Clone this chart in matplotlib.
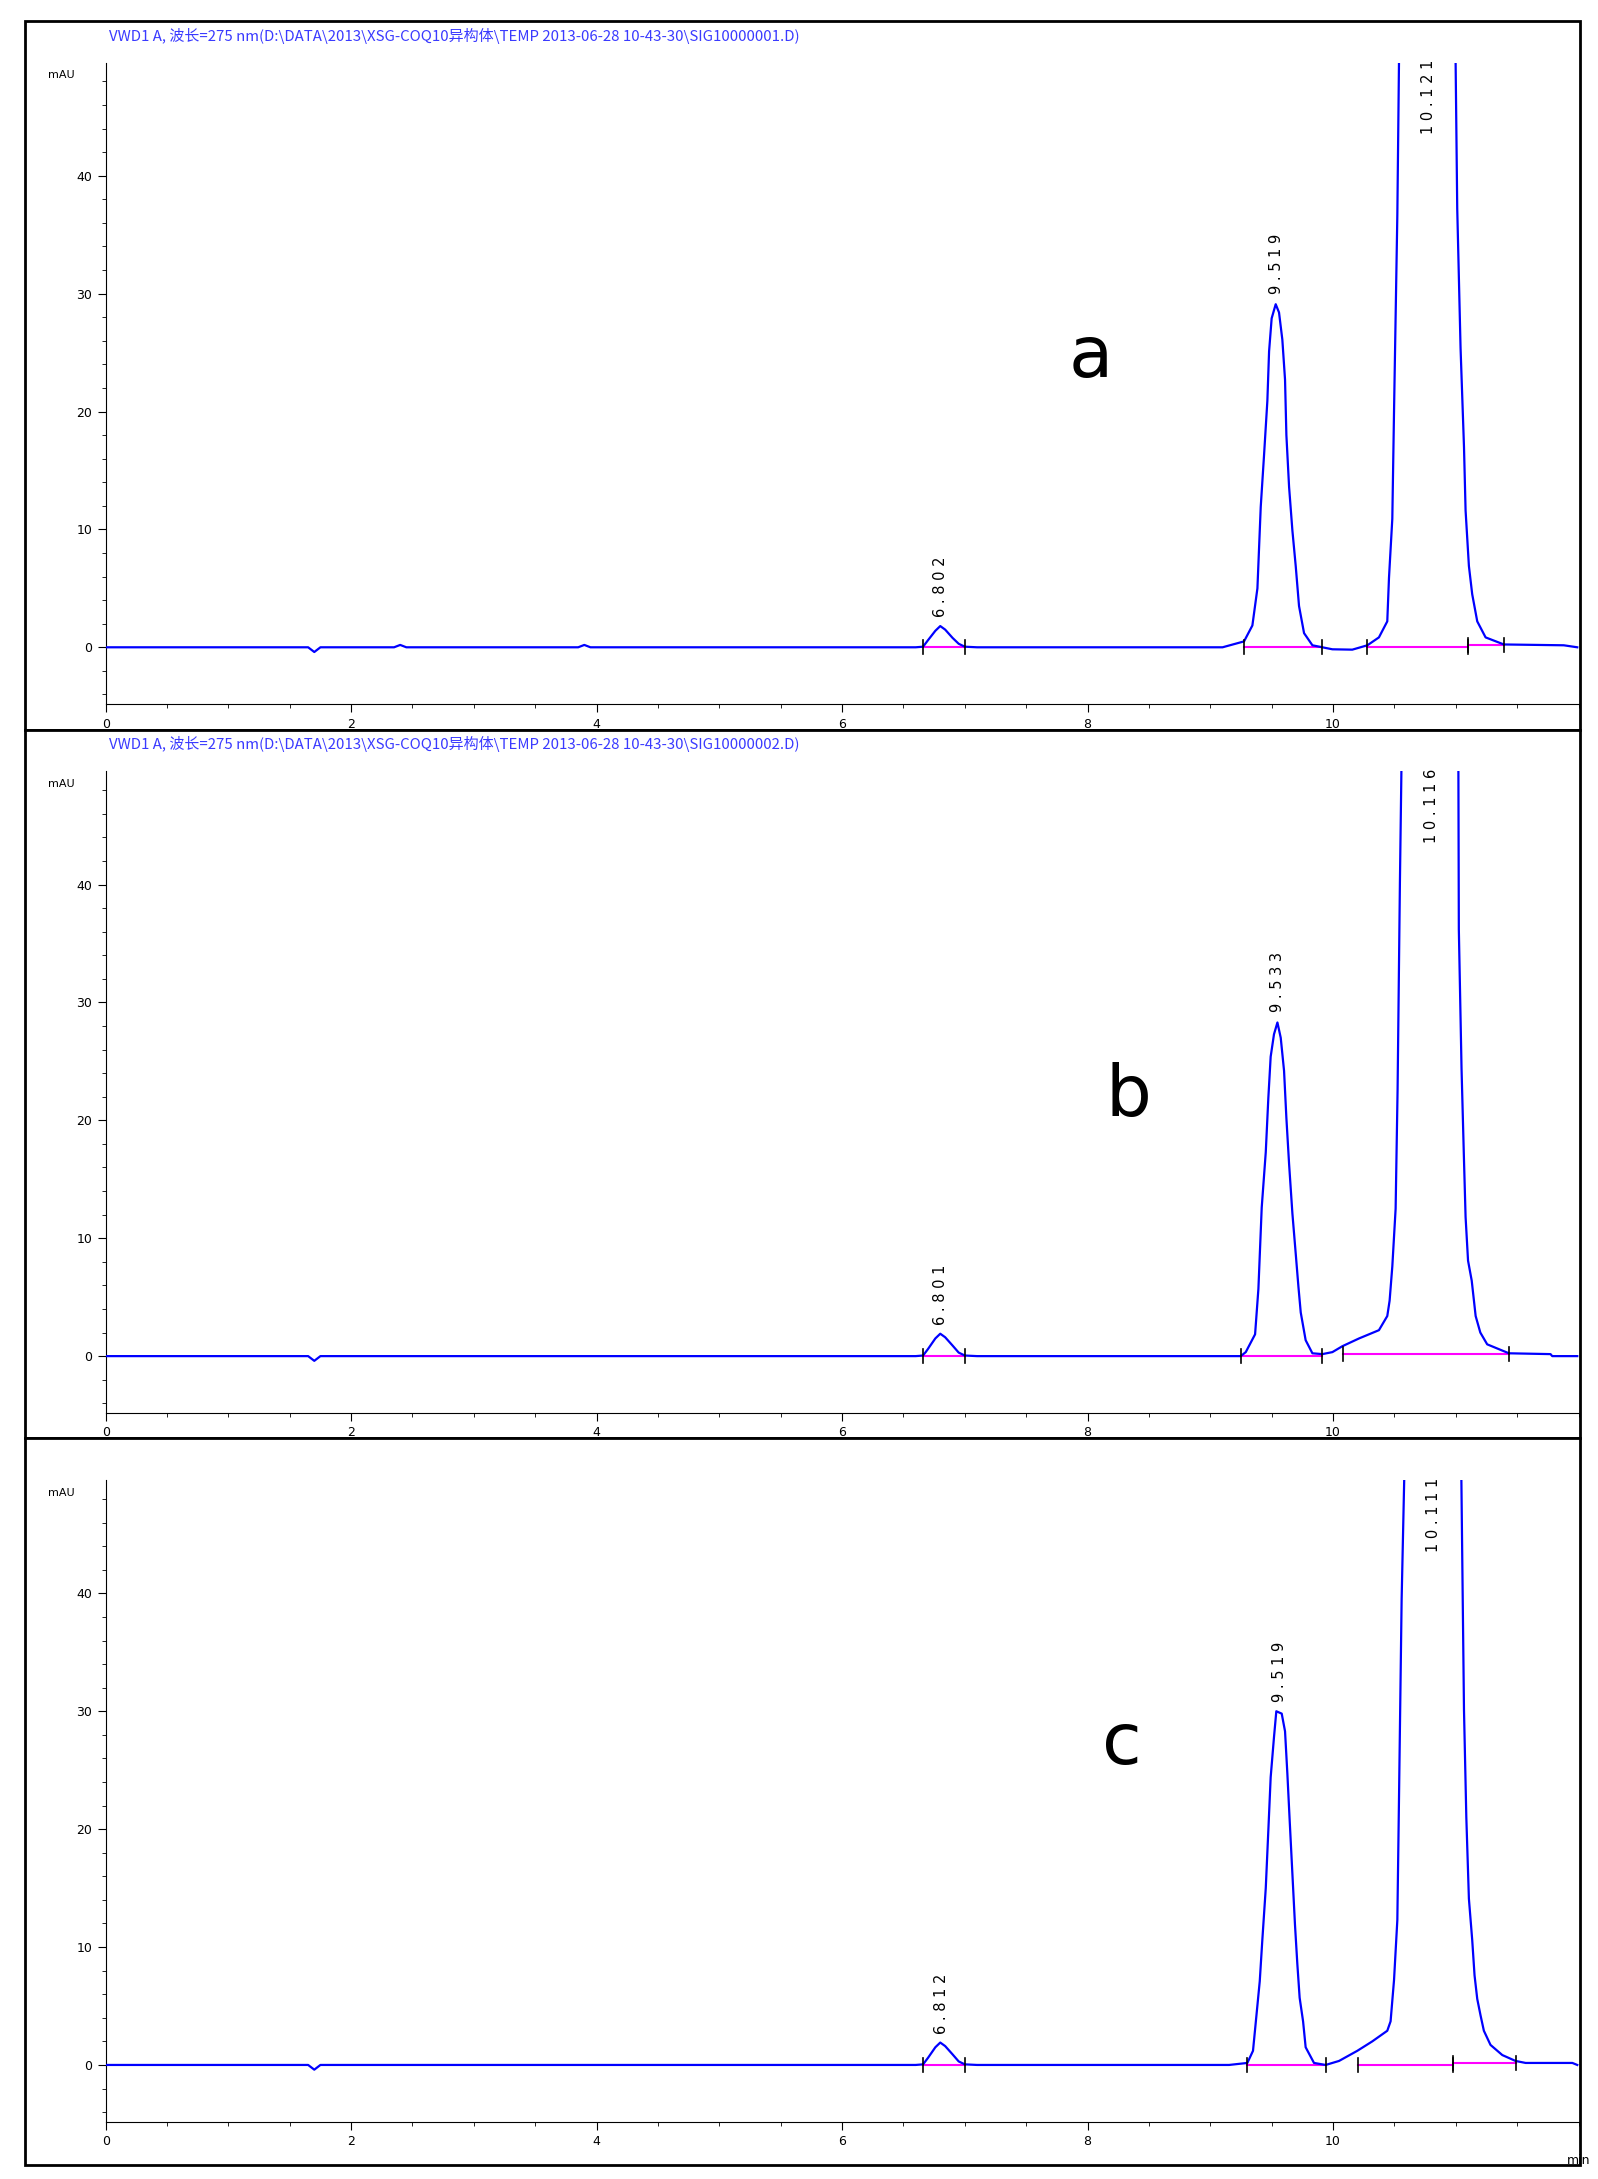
import numpy as np
import matplotlib
matplotlib.use('Agg')
import matplotlib.pyplot as plt
from matplotlib.patches import Rectangle
from matplotlib.ticker import MultipleLocator

plt.rcParams['font.family'] = ['Noto Sans CJK SC', 'DejaVu Sans']

# retention time (min) and signal (mAU)
base_t = [0.0, 1.65, 1.7, 1.75, 2.35, 2.4, 2.45, 3.85, 3.9, 3.95, 6.6]
base_a = [0.0, 0.0, -0.4, 0.0, 0.0, 0.2, 0.0, 0.0, 0.2, 0.0, 0.0]
base_bc = [0.0, 0.0, -0.4, 0.0, 0.0, 0.0, 0.0, 0.0, 0.0, 0.0, 0.0]

small_t = [6.66, 6.7, 6.76, 6.80, 6.84, 6.9, 6.95, 7.0, 7.1, 9.1]
small_a = [0.05, 0.6, 1.4, 1.8, 1.5, 0.8, 0.3, 0.05, 0.0, 0.0]
small_b = [0.05, 0.6, 1.5, 1.9, 1.6, 0.9, 0.3, 0.05, 0.0, 0.0]
small_c = [0.05, 0.6, 1.5, 1.9, 1.6, 0.9, 0.3, 0.05, 0.0, 0.0]

peaks_a_t = [9.275, 9.343, 9.384, 9.411, 9.438, 9.465, 9.479, 9.5, 9.533, 9.56, 9.587, 9.609, 9.62,
             9.642, 9.669, 9.696, 9.723, 9.764, 9.832, 9.913, 9.995, 10.157, 10.28, 10.374, 10.442,
             10.456, 10.483, 10.497, 10.524, 10.543, 10.77, 10.993, 11.012, 11.039, 11.067, 11.08,
             11.107, 11.134, 11.175, 11.243, 11.392, 11.88, 11.99]
peaks_a_y = [0.5, 1.85, 5.0, 11.9, 16.3, 20.9, 25.1, 27.9, 29.1, 28.4, 26.1, 22.7, 18.0,
             13.6, 9.9, 6.9, 3.5, 1.2, 0.17, 0.0, -0.17, -0.2, 0.17, 0.84, 2.2,
             5.9, 10.9, 20.0, 36.7, 55.0, 90.0, 55.0, 37.2, 25.4, 17.0, 11.6,
             6.9, 4.5, 2.2, 0.84, 0.24, 0.17, 0.0]

peaks_b_t = [9.248, 9.289, 9.365, 9.392, 9.419, 9.452, 9.473, 9.492, 9.519, 9.547, 9.574, 9.601, 9.62,
             9.642, 9.669, 9.696, 9.718, 9.737, 9.777, 9.832, 9.913, 9.995, 10.076, 10.212, 10.374,
             10.442, 10.461, 10.483, 10.51, 10.526, 10.545, 10.564, 10.79, 11.02, 11.025, 11.047,
             11.066, 11.08, 11.1, 11.13, 11.162, 11.2, 11.256, 11.433, 11.772, 11.786, 11.99]
peaks_b_y = [0.0, 0.34, 1.85, 5.7, 12.6, 17.3, 21.9, 25.4, 27.3, 28.3, 27.0, 24.2, 20.2,
             16.3, 12.1, 8.7, 5.9, 3.7, 1.35, 0.24, 0.17, 0.34, 0.84, 1.5, 2.2,
             3.4, 4.7, 7.6, 12.5, 22.6, 40.2, 55.0, 90.0, 55.0, 36.2, 24.4,
             17.0, 11.8, 8.1, 6.4, 3.4, 2.0, 1.0, 0.24, 0.17, 0.0, 0.0]

peaks_c_t = [9.153, 9.302, 9.348, 9.376, 9.403, 9.424, 9.452, 9.473, 9.492, 9.519, 9.538, 9.582, 9.609,
             9.628, 9.647, 9.669, 9.69, 9.709, 9.728, 9.756, 9.777, 9.845, 9.94, 10.049, 10.198,
             10.32, 10.442, 10.469, 10.497, 10.524, 10.537, 10.559, 10.591, 10.82, 11.04, 11.053,
             11.067, 11.086, 11.107, 11.134, 11.153, 11.175, 11.202, 11.229, 11.283, 11.379, 11.487,
             11.569, 11.95, 11.99]
peaks_c_y = [0.0, 0.17, 1.2, 4.2, 7.1, 10.6, 15.0, 19.9, 24.4, 27.8, 30.0, 29.8, 28.3,
             24.7, 20.7, 16.2, 11.9, 8.6, 5.7, 3.7, 1.5, 0.17, 0.0, 0.34, 1.2,
             2.0, 2.9, 3.7, 7.2, 12.3, 22.2, 39.5, 55.0, 90.0, 55.0, 42.9,
             30.1, 21.0, 14.1, 10.6, 7.6, 5.6, 4.2, 2.9, 1.7, 0.84, 0.34,
             0.17, 0.17, 0.0]

# integration baselines (start, end, y_start, y_end)
integ_a = [(6.66, 7.0, 0.0, 0.0), (9.275, 9.913, 0.0, 0.0), (10.28, 11.1, 0.0, 0.0), (11.1, 11.392, 0.2, 0.2)]
integ_b = [(6.66, 7.0, 0.0, 0.0), (9.25, 9.913, 0.0, 0.0), (10.08, 11.433, 0.2, 0.2)]
integ_c = [(6.66, 7.0, 0.0, 0.0), (9.3, 9.94, 0.0, 0.0), (10.2, 10.98, 0.0, 0.0), (10.98, 11.487, 0.2, 0.2)]

labels_a = [('6.802', 6.802, 2.6), ('9.519', 9.54, 30.0), ('10.121', 10.78, 43.5)]
labels_b = [('6.801', 6.801, 2.6), ('9.533', 9.55, 29.2), ('10.116', 10.8, 43.5)]
labels_c = [('6.812', 6.812, 2.6), ('9.519', 9.56, 30.8), ('10.111', 10.82, 43.5)]

titles = [r'VWD1 A, 波长=275 nm(D:\DATA\2013\XSG-COQ10异构体\TEMP 2013-06-28 10-43-30\SIG10000001.D)',
          r'VWD1 A, 波长=275 nm(D:\DATA\2013\XSG-COQ10异构体\TEMP 2013-06-28 10-43-30\SIG10000002.D)',
          r'VWD1 A, 波长=275 nm(D:\DATA\2013\XSG-COQ10异构体\TEMP 2013-06-28 10-43-30\SIG10000003.D)']
letters = [('a', 8.03, 24.6), ('b', 8.33, 22.0), ('c', 8.28, 27.2)]

panels = [
    (base_a, small_a, peaks_a_t, peaks_a_y, integ_a, labels_a),
    (base_bc, small_b, peaks_b_t, peaks_b_y, integ_b, labels_b),
    (base_bc, small_c, peaks_c_t, peaks_c_y, integ_c, labels_c),
]

fig = plt.figure(figsize=(15.98, 21.79), dpi=100)
frames = [(0.9904, 0.6652), (0.6652, 0.3399), (0.3399, 0.0064)]
ax_bottoms = [0.6767, 0.3514, 0.0261]
ax_h = 0.2946

for i, (base, small, pt, py, integ, labs) in enumerate(panels):
    top, bot = frames[i]
    fig.patches.append(Rectangle((0.0157, bot), 0.973, top - bot, transform=fig.transFigure,
                                 facecolor='white', edgecolor='black', lw=2, zorder=2 * i + 0.5))
    ax = fig.add_axes([0.0661, ax_bottoms[i], 0.9217, ax_h])
    ax.set_zorder(2 * i + 1)
    t = list(base_t) + list(small_t) + list(pt)
    y = list(base) + list(small) + list(py)
    ax.plot(t, y, color='#0000ff', lw=1.6, zorder=3)
    for (s, e, ys, ye) in integ:
        ax.plot([s, e], [ys, ye], color='#ff00ff', lw=1.5, zorder=2)
        ax.plot([s, s], [ys - 0.6, ys + 0.6], color='black', lw=1.2, zorder=4)
        ax.plot([e, e], [ye - 0.6, ye + 0.6], color='black', lw=1.2, zorder=4)
    for txt, x, yy in labs:
        ax.text(x, yy, ' '.join(txt), rotation=90, ha='center', va='bottom', fontsize=10.5,
                family='DejaVu Sans', zorder=5)
    lt, lx, ly = letters[i]
    ax.text(lx, ly, lt, fontsize=52, ha='center', va='center', family='DejaVu Sans')
    ax.set_xlim(0, 12)
    ax.set_ylim(-4.85, 49.6)
    for s in ['top', 'right']:
        ax.spines[s].set_visible(False)
    ax.xaxis.set_minor_locator(MultipleLocator(0.5))
    ax.yaxis.set_minor_locator(MultipleLocator(2))
    ax.set_yticks([0, 10, 20, 30, 40])
    ax.set_xticks([0, 2, 4, 6, 8, 10])
    ax.set_xticklabels(['0', '2', '4', '6', '8', '10'], fontsize=9, family='DejaVu Sans')
    ax.set_yticklabels(['0', '10', '20', '30', '40'], fontsize=9, family='DejaVu Sans')
    ax.tick_params(which='major', length=6, direction='out')
    ax.tick_params(which='minor', length=3, direction='out')
    if i == 2:
        ax.text(1.0, -0.06, 'min', transform=ax.transAxes, fontsize=9, ha='center', va='center',
                family='DejaVu Sans')
    ax.text(-0.03, 0.98, 'mAU', transform=ax.transAxes, fontsize=8, ha='center', va='center',
            family='DejaVu Sans')
    fig.text(0.068, top - 0.0068, titles[i], color='#3a3aff', fontsize=10.8, ha='left', va='center')

fig.savefig('out.png', dpi=100)
